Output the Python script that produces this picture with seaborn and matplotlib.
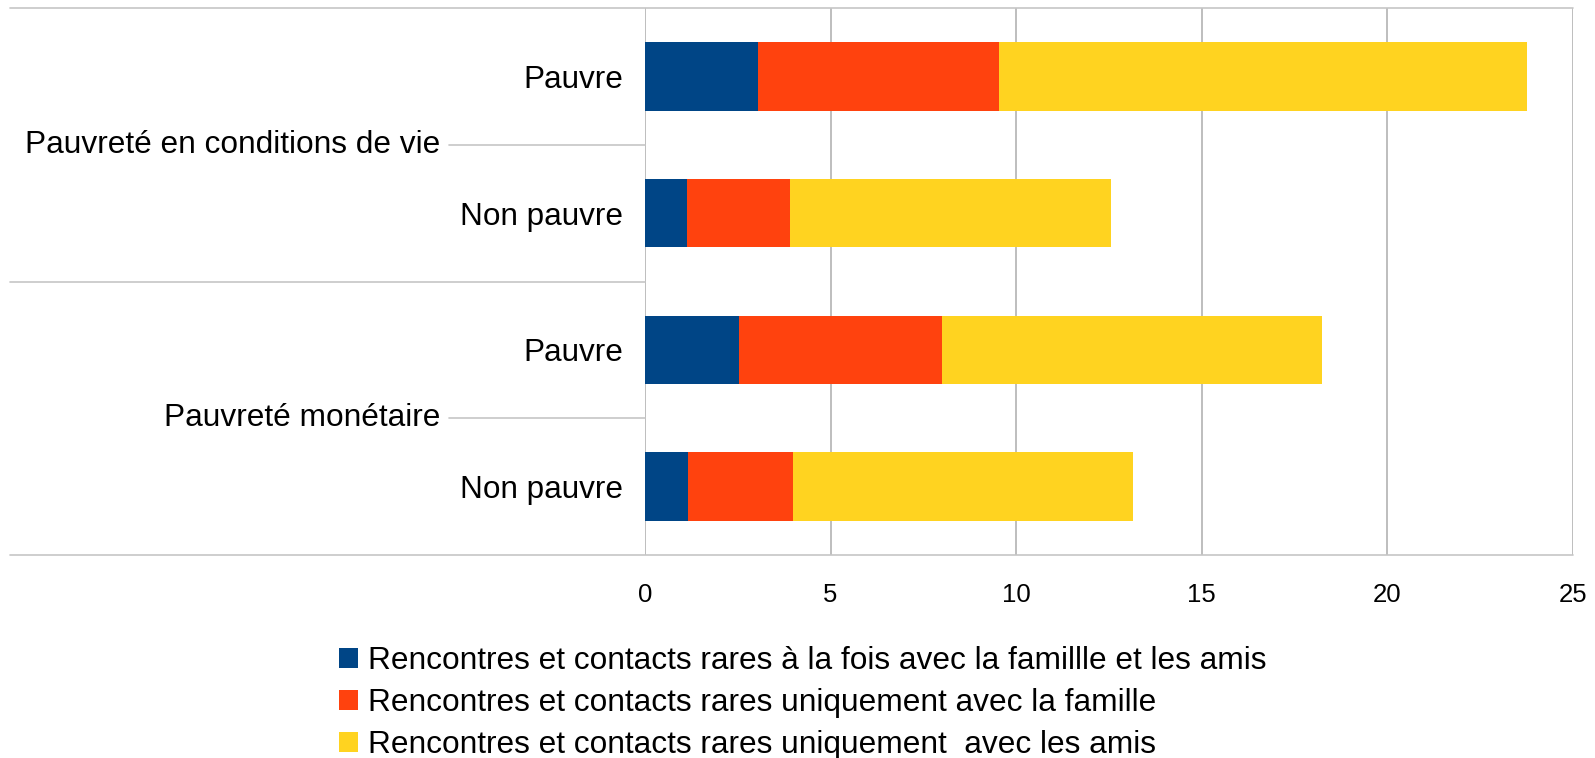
import pandas as pd
import matplotlib.pyplot as plt
import matplotlib.transforms as mtransforms
from matplotlib.patches import Patch
import seaborn as sns

groups = ["Pauvreté en conditions de vie", "Pauvreté monétaire"]
categories = ["Pauvre", "Non pauvre", "Pauvre", "Non pauvre"]
both = [3.05, 1.13, 2.53, 1.17]
famille = [6.5, 2.77, 5.47, 2.83]
amis = [14.2, 8.65, 10.25, 9.15]
series_labels = [
    "Rencontres et contacts rares à la fois avec la famillle et les amis",
    "Rencontres et contacts rares uniquement avec la famille",
    "Rencontres et contacts rares uniquement  avec les amis",
]
colors = ["#004586", "#ff420e", "#ffd320"]
x_ticks = [0, 5, 10, 15, 20, 25]

W, H = 1595, 758
sns.set_style("white")
plt.rcParams["font.family"] = ["Liberation Sans", "DejaVu Sans"]
plt.rcParams["text.color"] = "black"
plt.rcParams["xtick.labelcolor"] = "black"
plt.rcParams["ytick.labelcolor"] = "black"

df = pd.DataFrame({
    "row": [f"{g}|{c}" for g in groups for c in categories[:2]],
    "both": both,
    "famille": famille,
    "amis": amis,
})
df["cum_red"] = df["both"] + df["famille"]
df["cum_yellow"] = df["cum_red"] + df["amis"]

fig = plt.figure(figsize=(W / 100, H / 100), dpi=100)
ax = fig.add_axes([645 / W, 1 - 555 / H, (1573 - 645) / W, (555 - 8) / H])

for col, c in [("cum_yellow", colors[2]), ("cum_red", colors[1]), ("both", colors[0])]:
    sns.barplot(data=df, x=col, y="row", color=c, width=0.5, saturation=1,
                linewidth=0, ax=ax, orient="h")

ax.set_xlim(0, 25)
ax.set_ylim(3.5, -0.5)
ax.set_xticks(x_ticks)
ax.set_xlabel("")
ax.set_ylabel("")
ax.set_yticks(range(len(categories)))
ax.set_yticklabels(categories, fontsize=22.7)
ax.tick_params(axis="y", length=0, pad=15.5)
ax.tick_params(axis="x", length=8, width=1.2, color="#b3b3b3", labelsize=18.5, pad=12)
for s in ax.spines.values():
    s.set_visible(False)
ax.set_axisbelow(True)
ax.grid(axis="x", color="#b3b3b3", linewidth=1.2)
ax.grid(axis="y", visible=False)

# lignes de séparation à gauche
tr = mtransforms.blended_transform_factory(fig.transFigure, ax.transData)
line_kw = dict(color="#c6c6c6", linewidth=1.2, transform=tr, clip_on=False)
ax.plot([10 / W, 1573 / W], [-0.5, -0.5], **line_kw)
ax.plot([10 / W, 1573 / W], [3.5, 3.5], **line_kw)
ax.plot([10 / W, 645 / W], [1.5, 1.5], **line_kw)
for yc, g in zip([0.5, 2.5], groups):
    ax.plot([449 / W, 645 / W], [yc, yc], **line_kw)
    ax.text(440 / W, yc, g, transform=tr, ha="right", va="center", fontsize=22.8)

handles = [Patch(facecolor=c, edgecolor="none") for c in colors]
fig.legend(handles, series_labels, loc="upper left",
           bbox_to_anchor=(339 / W, 1 - 646 / H), frameon=False,
           fontsize=22.8, handlelength=0.6, handleheight=0.6,
           handletextpad=0.3, labelspacing=0.38, borderpad=0, borderaxespad=0)

plt.savefig("out.png", dpi=100)
plt.close()
